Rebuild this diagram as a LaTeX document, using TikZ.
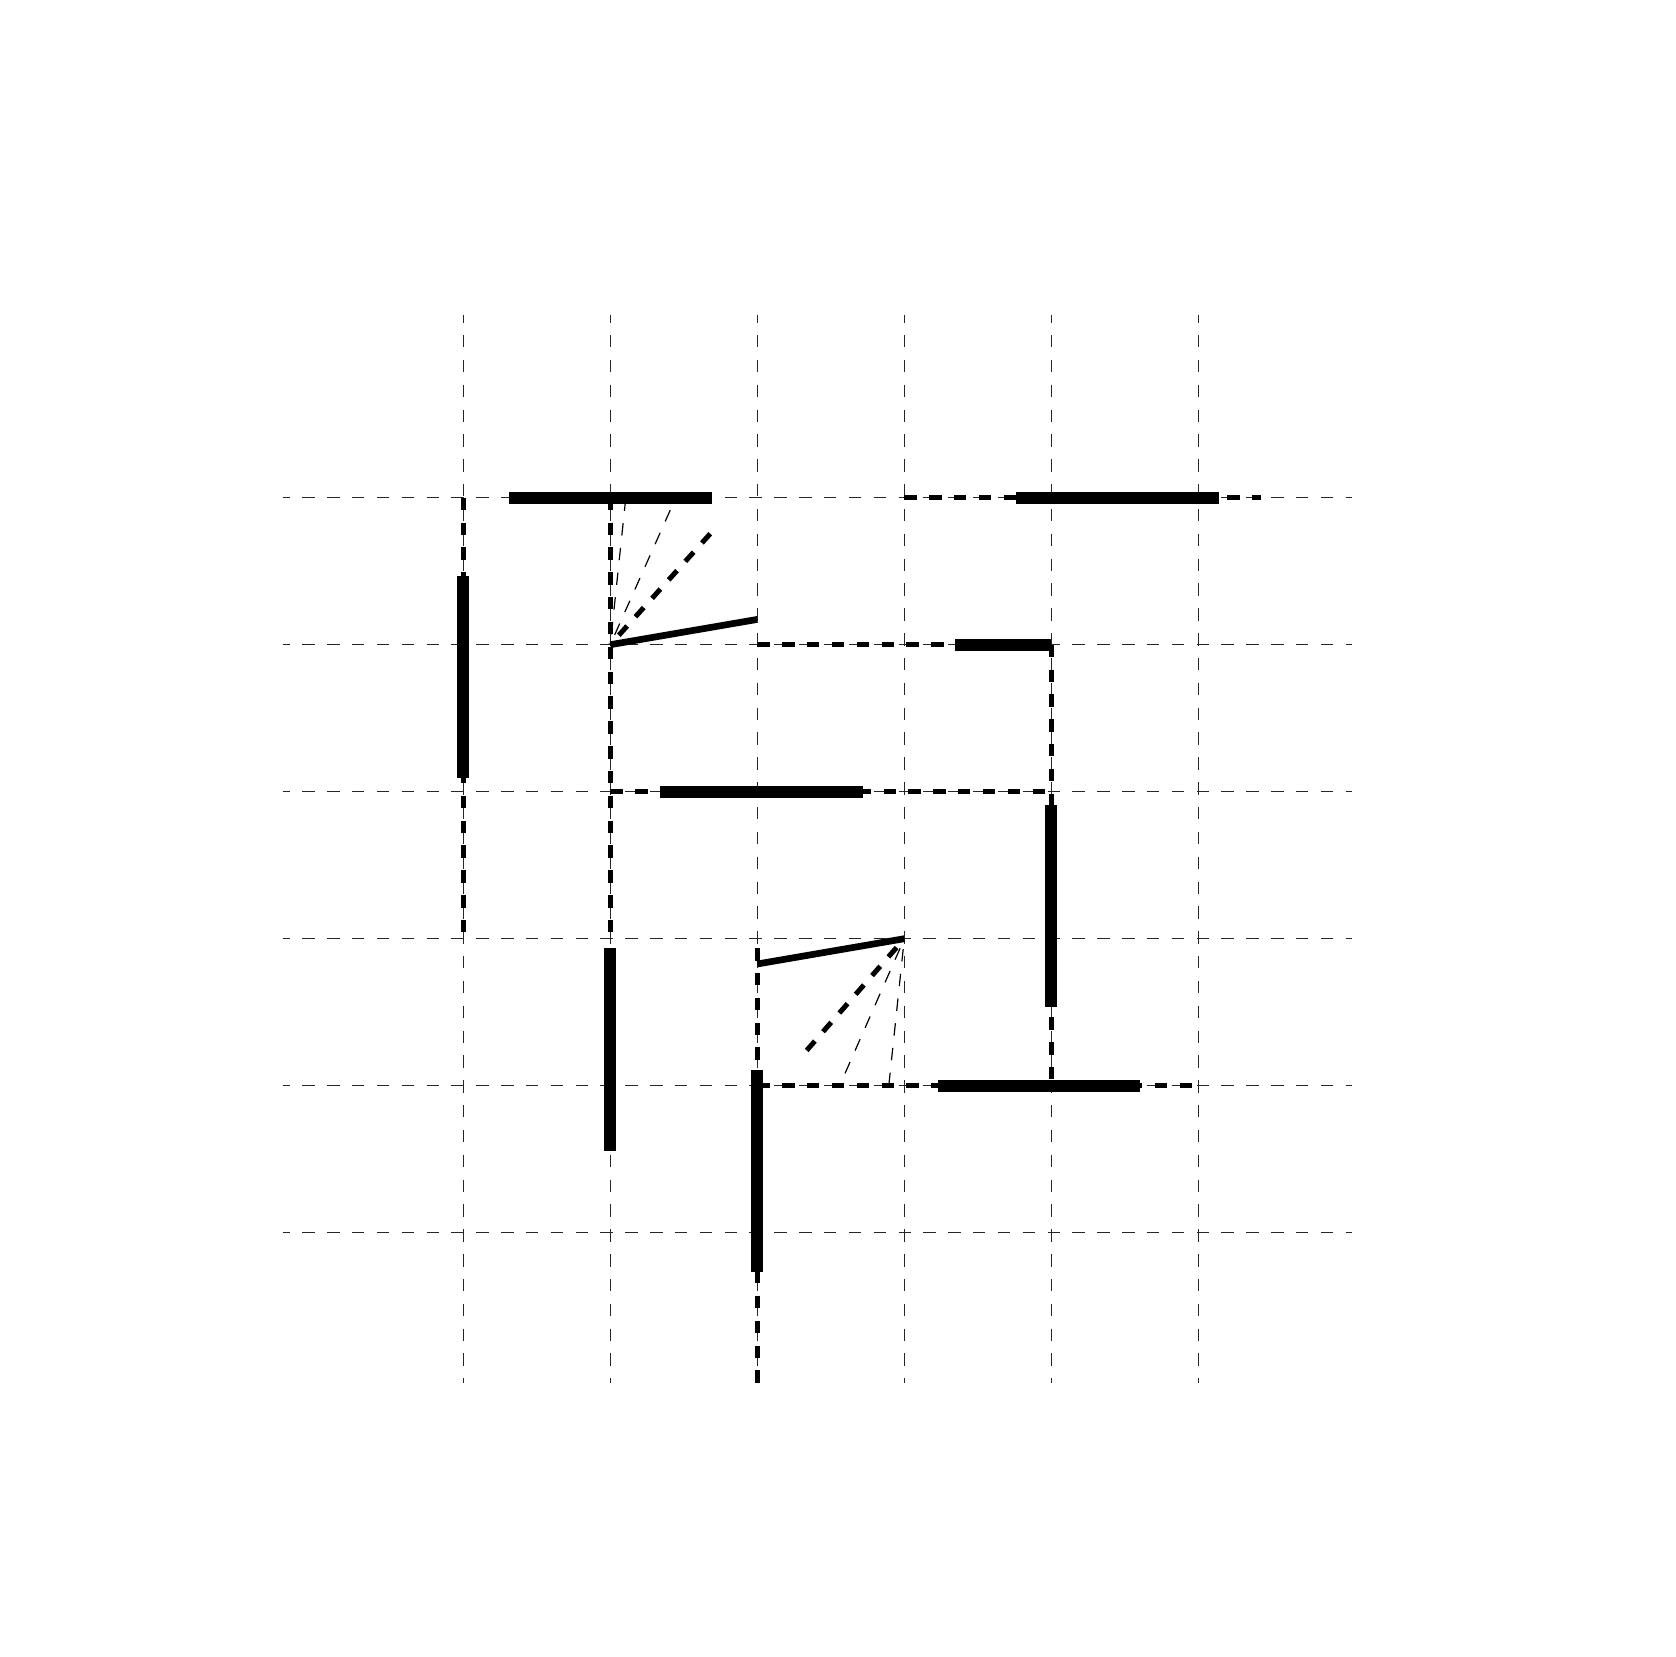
\documentclass[tikz,border=0pt]{standalone}
\begin{document}
\begin{tikzpicture}[x=147pt,y=-147pt,
  hgrid/.style={line width=1pt, black!85, dash pattern=on 12.42pt off 12.42pt, dash phase=5.4pt},
  vgrid/.style={line width=1pt, black!85, dash pattern=on 12.42pt off 12.42pt, dash phase=4.8pt},
  track/.style={line width=4.8pt, dash pattern=on 12.42pt off 12.42pt},
  wall/.style={line width=12pt},
  door/.style={line width=6.7pt},
  swingmain/.style={line width=5pt, dash pattern=on 12.42pt off 12.42pt},
  swingthin/.style={line width=1.2pt, dash pattern=on 12.42pt off 12.42pt}]
\useasboundingbox (-3.1517,-3.3857) rectangle (8.2497,7.8864);
\fill[white] (-3.1517,-3.3857) rectangle (8.2497,7.8864);
% grid
\foreach \j in {0,...,5} \draw[hgrid] (-1.227,\j) -- (6.048,\j);
\foreach \i in {0,...,5} \draw[vgrid] (\i,-1.243) -- (\i,6.023);
% tracks
\draw[track] (3,0) -- (5.424,0);
\draw[track] (2,1) -- (4,1);
\draw[track] (1,2) -- (4,2);
\draw[track] (2,4) -- (5,4);
\draw[track] (0,0) -- (0,3);
\draw[track] (1,0) -- (1,3);
\draw[track] (2,3.064) -- (2,6.036);
\draw[track] (4,1) -- (4,4);
% walls
\draw[wall] (0.313,0) -- (1.690,0);
\draw[wall] (3.761,0) -- (5.138,0);
\draw[wall] (3.348,1) -- (4,1);
\draw[wall] (1.338,2) -- (2.716,2);
\draw[wall] (3.231,4) -- (4.603,4);
\draw[wall] (0,0.533) -- (0,1.905);
\draw[wall] (1,3.064) -- (1,4.445);
\draw[wall] (2,3.893) -- (2,5.269);
\draw[wall] (4,2.090) -- (4,3.463);
% door swings
\coordinate (h1) at (1,1);
\coordinate (h2) at (3,3);
\draw[door] (h1) -- (2,0.828);
\draw[swingmain] (1.680,0.245) -- (h1);
\draw[swingthin] (1.408,0.084) -- (h1);
\draw[swingthin] (1.105,0.005) -- (h1);
\draw[door] (h2) -- (2,3.172);
\draw[swingmain] (2.336,3.760) -- (h2);
\draw[swingthin] (2.597,3.916) -- (h2);
\draw[swingthin] (2.895,3.995) -- (h2);
\end{tikzpicture}
\end{document}
